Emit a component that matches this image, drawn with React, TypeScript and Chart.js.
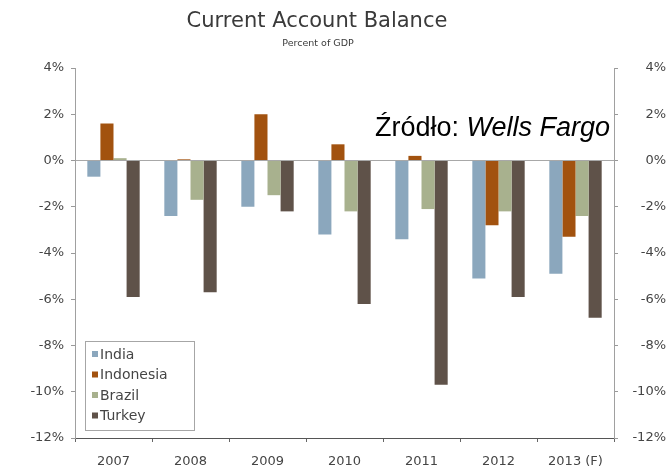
import React, { useEffect, useRef } from "react";
import { Chart, registerables } from "chart.js";

Chart.register(...registerables);

const categories = ["2007", "2008", "2009", "2010", "2011", "2012", "2013 (F)"];
const india = [-0.7, -2.4, -2.0, -3.2, -3.4, -5.1, -4.9];
const indonesia = [1.6, 0.05, 2.0, 0.7, 0.2, -2.8, -3.3];
const brazil = [0.1, -1.7, -1.5, -2.2, -2.1, -2.2, -2.4];
const turkey = [-5.9, -5.7, -2.2, -6.2, -9.7, -5.9, -6.8];
const yTicks = [4, 2, 0, -2, -4, -6, -8, -10, -12];

const seriesNames = ["India", "Indonesia", "Brazil", "Turkey"];
const colors = ["#8ba7bd", "#a2520f", "#a8b18e", "#5f5249"];

const FONT = "'DejaVu Sans', Verdana, sans-serif";
const TEXT = "#454545";

const overlayPlugin = {
  id: "overlay",
  afterDraw(chart: any) {
    const ctx = chart.ctx;
    ctx.save();
    // title
    ctx.fillStyle = "#3a3a3a";
    ctx.textAlign = "center";
    ctx.textBaseline = "middle";
    ctx.font = `21px ${FONT}`;
    ctx.fillText("Current Account Balance", 317, 22);
    ctx.font = `9.5px ${FONT}`;
    ctx.fillText("Percent of GDP", 318, 44);

    // legend
    const lx = 85, ly = 341, lw = 109, lh = 89;
    ctx.fillStyle = "#ffffff";
    ctx.fillRect(lx, ly, lw, lh);
    ctx.strokeStyle = "#a6a6a6";
    ctx.lineWidth = 1;
    ctx.strokeRect(lx + 0.5, ly + 0.5, lw, lh);
    ctx.textAlign = "left";
    ctx.font = `14px ${FONT}`;
    seriesNames.forEach((n, i) => {
      const y = 354 + i * 20.5;
      ctx.fillStyle = colors[i];
      ctx.fillRect(92, y - 3, 6, 6);
      ctx.fillStyle = TEXT;
      ctx.fillText(n, 100, y + 1);
    });

    // source
    ctx.fillStyle = "#000000";
    ctx.textBaseline = "alphabetic";
    ctx.font = "27px 'Liberation Sans', Arial, sans-serif";
    const a = "Źródło: ";
    ctx.fillText(a, 375, 136);
    const w = ctx.measureText(a).width;
    ctx.font = "italic 27px 'Liberation Sans', Arial, sans-serif";
    ctx.fillText("Wells Fargo", 375 + w, 136);
    ctx.restore();
  },
};

export default function App() {
  const ref = useRef<HTMLCanvasElement>(null);
  useEffect(() => {
    if (!ref.current) return;
    const tickCb = (v: any) => `${v}%`;
    const buildTicks = (scale: any) => {
      scale.ticks = yTicks.map((v) => ({ value: v }));
    };
    const chart = new Chart(ref.current, {
      type: "bar",
      data: {
        labels: categories,
        datasets: [india, indonesia, brazil, turkey].map((d, i) => ({
          label: seriesNames[i],
          data: d,
          backgroundColor: colors[i],
          borderWidth: 0,
          categoryPercentage: 0.68,
          barPercentage: 1,
        })),
      },
      options: {
        animation: false,
        responsive: false,
        maintainAspectRatio: false,
        layout: { padding: { top: 68, left: 0, right: 6, bottom: 0 } },
        plugins: {
          legend: { display: false },
          title: { display: false },
          tooltip: { enabled: false },
        },
        scales: {
          x: {
            afterFit: (s: any) => {
              s.height = 29;
            },
            grid: {
              offset: true,
              drawOnChartArea: false,
              drawTicks: true,
              tickLength: 4,
              tickColor: "#666666",
            },
            border: { color: "#555555", width: 1 },
            ticks: {
              color: TEXT,
              font: { family: FONT, size: 13 },
              padding: 12,
              maxRotation: 0,
              autoSkip: false,
            },
          },
          y: {
            min: -12,
            max: 4,
            position: "left",
            afterBuildTicks: buildTicks,
            afterFit: (s: any) => {
              s.width = 75;
            },
            ticks: {
              callback: tickCb,
              color: TEXT,
              font: { family: FONT, size: 13 },
              padding: 7,
            },
            grid: {
              drawOnChartArea: true,
              color: (c: any) => (c.tick && c.tick.value === 0 ? "#a8a8a8" : "rgba(0,0,0,0)"),
              lineWidth: 1,
              drawTicks: true,
              tickLength: 4,
              tickColor: "#999999",
            },
            border: { color: "#a0a0a0", width: 1 },
          },
          y2: {
            min: -12,
            max: 4,
            position: "right",
            afterBuildTicks: buildTicks,
            afterFit: (s: any) => {
              s.width = 52;
            },
            ticks: {
              callback: tickCb,
              color: TEXT,
              font: { family: FONT, size: 13 },
              padding: 7,
              crossAlign: "far",
            },
            grid: {
              drawOnChartArea: false,
              drawTicks: true,
              tickLength: 4,
              tickColor: "#999999",
            },
            border: { color: "#a0a0a0", width: 1 },
          },
        },
      },
      plugins: [overlayPlugin],
    } as any);
    return () => chart.destroy();
  }, []);
  return (
    <div style={{ position: "fixed", left: 0, top: 0, width: 672, height: 467, background: "#fff" }}>
      <canvas ref={ref} width={672} height={467} style={{ width: 672, height: 467, display: "block" }} />
    </div>
  );
}
